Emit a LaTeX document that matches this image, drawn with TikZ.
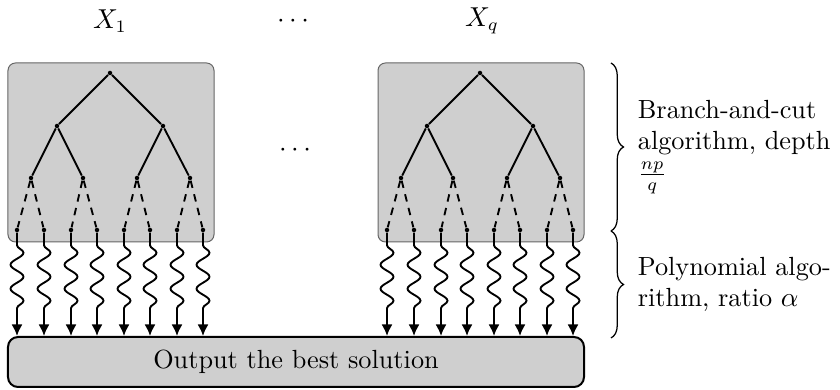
\documentclass[tikz,border=0pt]{standalone}
\usepackage{xcolor}
\usepackage{tikz}
\usetikzlibrary{arrows.meta,positioning,decorations.pathmorphing,decorations.pathreplacing}
\tikzset{
  treebox/.style={draw=black!60, fill=black!19, rounded corners=3pt, line width=0.4pt, minimum width=82.4pt, minimum height=71.6pt, inner sep=0pt},
  outbox/.style={draw, fill=black!19, rounded corners=4pt, line width=0.8pt, minimum width=230.4pt, minimum height=20pt, inner sep=0pt},
  treedot/.style={circle, fill, inner sep=0pt, minimum size=1.8pt},
  treeedge/.style={line width=0.75pt},
  cutedge/.style={line width=0.75pt, dash pattern=on 3pt off 2.6pt},
  polyarrow/.style={-{Latex[length=4.6pt,width=4.4pt]}, line width=0.75pt,
    decorate, decoration={snake, amplitude=2.6pt, segment length=9.6pt, pre length=5pt, post length=8pt}},
  bracebar/.style={decorate, decoration={brace, amplitude=5pt}, line width=0.5pt},
  notetext/.style={anchor=west, align=left, inner sep=0pt}
}
\begin{document}
\begin{tikzpicture}[x=0.4pt, y=-0.4pt, every node/.style={font=\fontsize{10.5}{12.5}\selectfont}]
\useasboundingbox (0,0) rectangle (840,390);
% boxes
\node[treebox] (box1) at (111,152.5) {};
\node[treebox] (box2) at (481,152.5) {};
\node[outbox] (out) at (296,362) {Output the best solution};
\node (x1) at (110,21) {$X_1$};
\node (xdots) at (293,21) {$\cdots$};
\node (xq) at (482,21) {$X_q$};
\node (mdots) at (295,150) {$\cdots$};
% trees
\foreach \b/\ox in {1/0, 2/370} {
  \node[treedot] (r\b) at (110+\ox,73) {};
  \foreach \i/\x in {1/57, 2/163} {
    \node[treedot] (m\b\i) at (\x+\ox,126) {};
    \draw[treeedge] (r\b) -- (m\b\i);
  }
  \foreach \j/\x/\p in {1/31/1, 2/83/1, 3/137/2, 4/190/2} {
    \node[treedot] (n\b\j) at (\x+\ox,178) {};
    \draw[treeedge] (m\b\p) -- (n\b\j);
  }
  \foreach \k/\x/\p in {1/17/1, 2/44/1, 3/71/2, 4/97/2, 5/124/3, 6/150/3, 7/177/4, 8/203/4} {
    \node[treedot] (f\b\k) at (\x+\ox,230) {};
    \draw[cutedge] (n\b\p) -- (f\b\k);
    \draw[polyarrow] (f\b\k) -- (f\b\k |- out.north);
  }
}
% braces
\coordinate (bt) at (611,63);
\coordinate (bm) at (611,231);
\coordinate (bb) at (611,338);
\draw[bracebar] (bt) -- node[right=10.5pt, notetext] (bcnote) {Branch-and-cut\\algorithm, depth\\$\frac{np}{q}$} (bm);
\draw[bracebar] (bm) -- node[right=10.5pt, notetext] (polynote) {Polynomial algo-\\rithm, ratio $\alpha$} (bb);
\end{tikzpicture}
\end{document}
